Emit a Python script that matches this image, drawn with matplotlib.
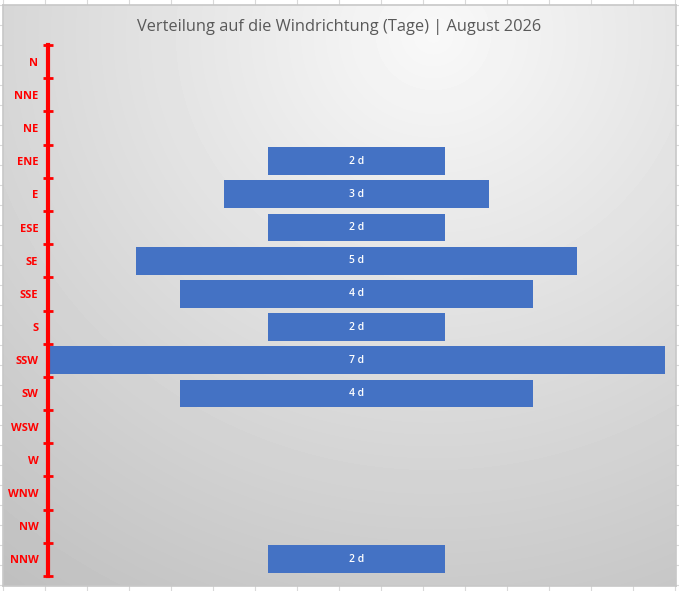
import numpy as np
import matplotlib.pyplot as plt

directions = ['N', 'NNE', 'NE', 'ENE', 'E', 'ESE', 'SE', 'SSE', 'S',
              'SSW', 'SW', 'WSW', 'W', 'WNW', 'NW', 'NNW']
days = [0, 0, 0, 2, 3, 2, 5, 4, 2, 7, 4, 0, 0, 0, 0, 2]
title = 'Verteilung auf die Windrichtung (Tage) | August 2026'

W, H = 679, 591
fig = plt.figure(figsize=(W / 100, H / 100), dpi=100)
fig.patch.set_facecolor('white')

# spreadsheet grid behind the chart
grid_ax = fig.add_axes([0, 0, 1, 1])
grid_ax.set_xlim(0, W)
grid_ax.set_ylim(H, 0)
grid_ax.axis('off')
for gx in range(3, W, 42):
    grid_ax.axvline(gx, color='#d9d9d9', lw=0.8)
for gy in range(5, H, 20):
    grid_ax.axhline(gy, color='#d9d9d9', lw=0.8)

# chart area with radial gradient
cx0, cy0, cx1, cy1 = 3, 5, 676, 586
bg = fig.add_axes([cx0 / W, 1 - cy1 / H, (cx1 - cx0) / W, (cy1 - cy0) / H])
yy, xx = np.mgrid[0:cy1 - cy0, 0:cx1 - cx0]
dist = np.hypot(xx - 430, (yy - 30) / 0.95)
t = np.clip(dist / 720, 0, 1)
shade = 0.975 - t * (0.975 - 0.75)
bg.imshow(shade, cmap='gray', vmin=0, vmax=1, aspect='auto',
          extent=(0, 1, 0, 1), interpolation='bilinear')
bg.set_xticks([])
bg.set_yticks([])
for sp in bg.spines.values():
    sp.set_color('#c8c8c8')
    sp.set_linewidth(1.2)

bg.text(0.5, 1 - (27 - cy0) / (cy1 - cy0), title, transform=bg.transAxes,
        ha='center', va='center', fontsize=11.8, color='#595959',
        family=['Open Sans', 'DejaVu Sans'])

# plot area
left, right, top, bottom = 48, 665, 45, 576
ax = fig.add_axes([left / W, 1 - bottom / H, (right - left) / W, (bottom - top) / H])
ax.patch.set_alpha(0)

ypos = np.arange(len(directions))
vals = np.array(days, dtype=float)
ax.barh(ypos, vals, left=-vals / 2, height=0.84, color='#4472c4')
for y, v in zip(ypos, days):
    if v > 0:
        ax.text(0, y, f'{v} d', ha='center', va='center', color='white',
                fontsize=7.5, fontweight='semibold', family=['Open Sans', 'DejaVu Sans'])

ax.set_xlim(-3.5, 3.5)
ax.set_ylim(len(directions) - 0.5, -0.5)
ax.set_xticks([])

ax.set_yticks(ypos)
ax.set_yticklabels(directions, color='#ff0000', fontsize=8, fontweight='bold',
                   family=['Open Sans', 'DejaVu Sans'])
ax.tick_params(axis='y', which='major', length=0, pad=7)
ax.set_yticks(np.arange(len(directions) + 1) - 0.5, minor=True)
ax.tick_params(axis='y', which='minor', direction='inout', length=7,
               width=2, color='#ff0000')

for name, sp in ax.spines.items():
    if name == 'left':
        sp.set_color('#ff0000')
        sp.set_linewidth(3)
    else:
        sp.set_visible(False)

fig.savefig('out.png', dpi=100)
